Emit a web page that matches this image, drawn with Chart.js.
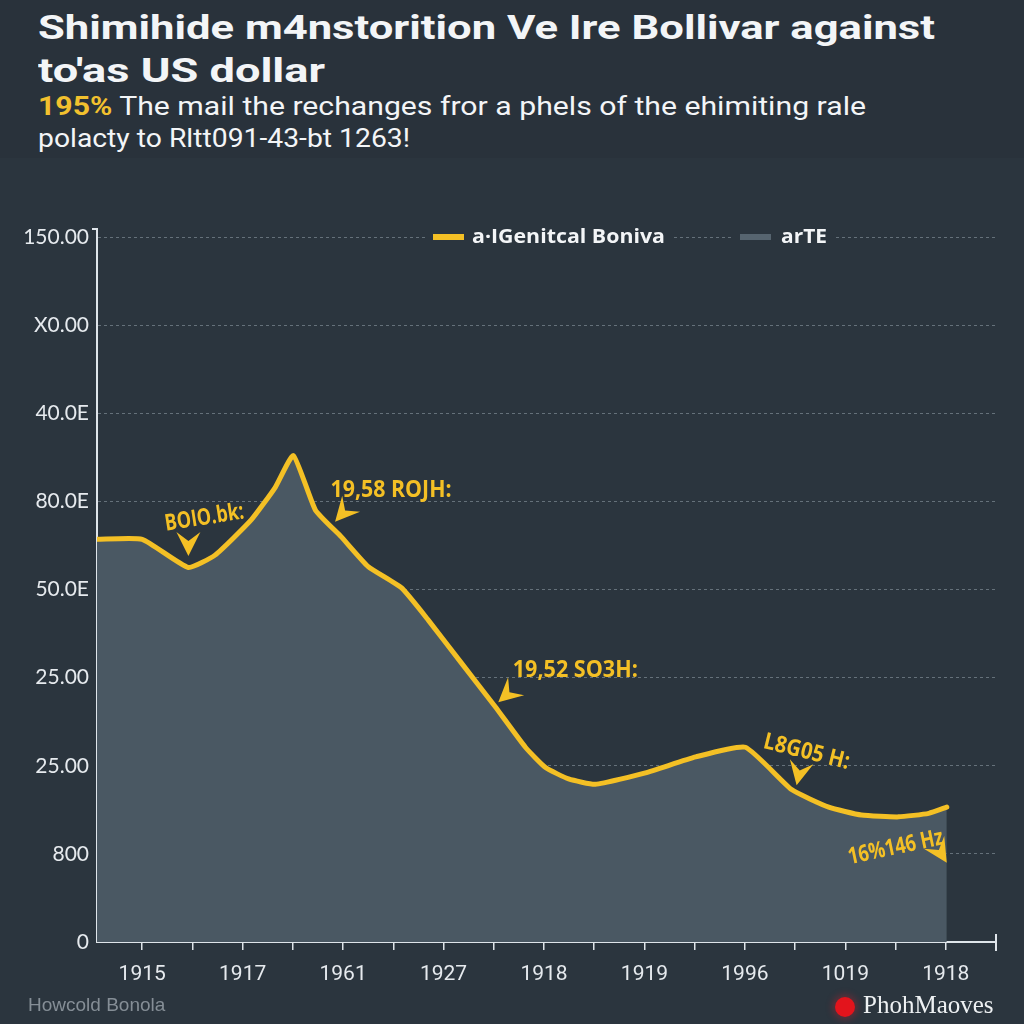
<!DOCTYPE html>
<html>
<head>
<meta charset="utf-8">
<title>Bolivar vs US dollar</title>
<script src="https://cdn.jsdelivr.net/npm/chart.js@4.4.1/dist/chart.umd.min.js"></script>
<style>
  html, body { margin: 0; padding: 0; }
  body {
    width: 1024px; height: 1024px; overflow: hidden; position: relative;
    background: #2b353e; font-family: Roboto, "Noto Sans", sans-serif;
  }
  #header { position: absolute; left: 0; top: 0; width: 1024px; height: 158px; background: #29323b; }
  .line { position: absolute; left: 38px; white-space: nowrap; transform-origin: 0 0; color: #f3f5f7; line-height: 1; }
  .title { font-size: 33px; font-weight: 700; }
  .sub { font-size: 25px; font-weight: 400; }
  .sub b { color: #f2c12e; font-weight: 700; }
  #chartBox { position: absolute; left: 0; top: 0; width: 1024px; height: 1024px; }
  #srcNote { position: absolute; left: 28px; top: 995px; font: 19px "Liberation Sans", Arial, sans-serif; color: #858e96; line-height: 1; }
  #brand { position: absolute; left: 863px; top: 992px; font: 25px "Liberation Serif", "DejaVu Serif", serif; color: #eef1f3; line-height: 1; }
  #brandDot {
    position: absolute; left: 835px; top: 997px; width: 20px; height: 20px; border-radius: 50%;
    background: #e3141c; box-shadow: 0 0 6px 3px rgba(150, 40, 50, 0.45);
  }
</style>
</head>
<body>
<div id="header"></div>
<div class="line title" style="top:11px" data-w="897">Shimihide m4nstorition Ve Ire Bollivar against</div>
<div class="line title" style="top:54px" data-w="287">to′as US dollar</div>
<div class="line sub" style="top:94px" data-w="828"><b>195%</b> The mail the rechanges fror a phels of the ehimiting rale</div>
<div class="line sub" style="top:126px" data-w="372">polacty to Rltt091-43-bt 1263!</div>

<div id="chartBox"><canvas id="rateChart" width="1024" height="1024"></canvas></div>

<div id="srcNote">Howcold Bonola</div>
<div id="brandDot"></div>
<div id="brand">PhohMaoves</div>

<script>
// Dữ liệu (trục y tính theo số vạch lưới, 0..8)
const seriesLine = 'a·IGenitcal Boniva';
const seriesArea = 'arTE';
const xPositions = [-0.9, 0, 0.92, 1.45, 2.17, 2.65, 3.01, 3.45, 3.96, 4.5, 5.16, 5.7, 6.35, 7.03, 7.63, 8.03, 8.49, 9.02, 10.02, 11.02, 12.01, 12.93, 13.67, 14.32, 15.06, 15.66, 16.02];
const rateValues = [4.57, 4.57, 4.25, 4.39, 4.79, 5.16, 5.52, 4.9, 4.6, 4.26, 4.02, 3.65, 3.17, 2.67, 2.21, 1.98, 1.85, 1.79, 1.92, 2.1, 2.21, 1.73, 1.53, 1.44, 1.42, 1.46, 1.53];
const yTickLabels = ['0', '800', '25.00', '25.00', '50.0E', '80.0E', '40.0E', 'X0.00', '150.00'];
const xTickLabels = ['1915', '1917', '1961', '1927', '1918', '1919', '1996', '1019', '1918'];
const calloutTexts = ['BOIO.bk:', '19,58 ROJH:', '19,52 SO3H:', 'L8G05 H:', '16%146 Hz'];

// Vị trí chú thích: mũi tên (đơn vị dữ liệu), lệch chữ (px), góc, độ rộng chữ
const calloutLayout = [
  { x: 0.92, y: 4.38, dir: 0, dx: 16, dy: -38, rot: -9, w: 80 },
  { x: 3.84, y: 4.77, dir: 42, dx: 56, dy: -31, rot: 0, w: 121 },
  { x: 7.09, y: 2.72, dir: 48, dx: 77, dy: -32, rot: 0, w: 125 },
  { x: 13.03, y: 1.78, dir: 12, dx: 10, dy: -33, rot: 14, w: 88 },
  { x: 16.02, y: 0.9, dir: -32, dx: -51, dy: -15, rot: -12, w: 97 }
];

const YELLOW = '#f4c025';
const AREA = '#4a5863';

const points = xPositions.map((x, i) => ({ x: x, y: rateValues[i] }));

// Co giãn các dòng tiêu đề cho đúng độ rộng
function fitLines() {
  document.querySelectorAll('.line').forEach(el => {
    const target = +el.dataset.w;
    const w = el.getBoundingClientRect().width;
    if (w > 0) el.style.transform = `scaleX(${target / w})`;
  });
}

// Plugin vẽ chú thích, legend và mép trục
const overlayPlugin = {
  id: 'overlay',
  afterDraw(chart) {
    const { ctx, scales: { x, y }, chartArea } = chart;

    // đầu trục y có móc nhỏ, cuối trục x có vạch dài
    ctx.save();
    ctx.strokeStyle = '#dfe5ea';
    ctx.lineWidth = 2;
    ctx.beginPath();
    ctx.moveTo(chartArea.left, chartArea.top);
    ctx.lineTo(chartArea.left, chartArea.top - 8);
    ctx.lineTo(chartArea.left - 5, chartArea.top - 8);
    ctx.stroke();
    ctx.beginPath();
    ctx.moveTo(chartArea.right, chartArea.bottom - 8);
    ctx.lineTo(chartArea.right, chartArea.bottom + 9);
    ctx.stroke();
    ctx.restore();

    // legend nằm trên vạch lưới trên cùng
    const ly = y.getPixelForValue(8);
    const items = [
      { label: seriesLine, color: YELLOW, sx: 433, tx: 472, w: 193 },
      { label: seriesArea, color: '#56646f', sx: 740, tx: 781, w: 46 }
    ];
    ctx.save();
    ctx.font = 'bold 19px "Open Sans", sans-serif';
    ctx.textBaseline = 'middle';
    items.forEach(it => {
      ctx.fillStyle = '#2b353e';
      ctx.fillRect(it.sx - 6, ly - 10, it.tx - it.sx + it.w + 12, 20);
      ctx.fillStyle = it.color;
      ctx.fillRect(it.sx, ly - 3, 31, 6);
      const tw = ctx.measureText(it.label).width;
      ctx.save();
      ctx.translate(it.tx, ly + 1);
      ctx.scale(it.w / tw, 1);
      ctx.fillStyle = '#f3f5f7';
      ctx.fillText(it.label, 0, 0);
      ctx.restore();
    });
    ctx.restore();

    // chú thích màu vàng + mũi tên
    calloutTexts.forEach((txt, i) => {
      const c = calloutLayout[i];
      const tx = x.getPixelForValue(c.x);
      const ty = y.getPixelForValue(c.y);

      ctx.save();
      ctx.translate(tx, ty);
      ctx.rotate(c.dir * Math.PI / 180);
      ctx.beginPath();
      ctx.moveTo(0, 0);
      ctx.lineTo(-12, -24);
      ctx.lineTo(0, -15);
      ctx.lineTo(12, -24);
      ctx.closePath();
      ctx.fillStyle = YELLOW;
      ctx.fill();
      ctx.restore();

      ctx.save();
      ctx.translate(tx + c.dx, ty + c.dy);
      ctx.rotate(c.rot * Math.PI / 180);
      ctx.font = 'bold 23px "Open Sans", sans-serif';
      const w = ctx.measureText(txt).width;
      ctx.scale(c.w / w, 1);
      ctx.textAlign = 'center';
      ctx.textBaseline = 'middle';
      ctx.fillStyle = YELLOW;
      ctx.fillText(txt, 0, 0);
      ctx.restore();
    });
  }
};

function drawChart() {
  const ctx = document.getElementById('rateChart').getContext('2d');
  new Chart(ctx, {
    type: 'line',
    data: {
      datasets: [
        {
          label: seriesArea,
          data: points,
          fill: 'origin',
          backgroundColor: AREA,
          borderWidth: 0,
          pointRadius: 0,
          tension: 0.15,
          order: 2
        },
        {
          label: seriesLine,
          data: points,
          fill: false,
          borderColor: YELLOW,
          borderWidth: 5,
          borderJoinStyle: 'round',
          borderCapStyle: 'round',
          pointRadius: 0,
          tension: 0.15,
          order: 1
        }
      ]
    },
    options: {
      responsive: false,
      animation: false,
      events: [],
      layout: { padding: { top: 237, right: 28, left: 0, bottom: 0 } },
      plugins: { legend: { display: false }, tooltip: { enabled: false } },
      scales: {
        x: {
          type: 'linear',
          min: -0.9,
          max: 17,
          afterBuildTicks: s => { s.ticks = Array.from({ length: 18 }, (_, i) => ({ value: i })); },
          afterFit: s => { s.height = 82; s.paddingLeft = 0; s.paddingRight = 0; },
          ticks: {
            autoSkip: false,
            maxRotation: 0,
            padding: 12,
            color: '#e6eaee',
            font: { family: 'Roboto', size: 21 },
            callback: v => (v % 2 === 0 ? xTickLabels[v / 2] : '')
          },
          grid: { drawOnChartArea: false, drawTicks: true, tickLength: 8, color: '#dfe5ea', lineWidth: 1.5 },
          border: { color: '#dfe5ea', width: 2 }
        },
        y: {
          min: 0,
          max: 8,
          afterFit: s => { s.width = 97; s.paddingTop = 0; s.paddingBottom = 0; },
          ticks: {
            stepSize: 1,
            padding: 8,
            color: '#e6eaee',
            font: { family: 'Lato', size: 21 },
            callback: v => yTickLabels[v]
          },
          grid: { color: 'rgba(150, 162, 172, 0.55)', lineWidth: 1, drawTicks: false },
          border: { color: '#dfe5ea', width: 2, dash: [3, 3] }
        }
      }
    },
    plugins: [overlayPlugin]
  });
}

document.fonts.ready.then(() => {
  fitLines();
  drawChart();
});
</script>
</body>
</html>
